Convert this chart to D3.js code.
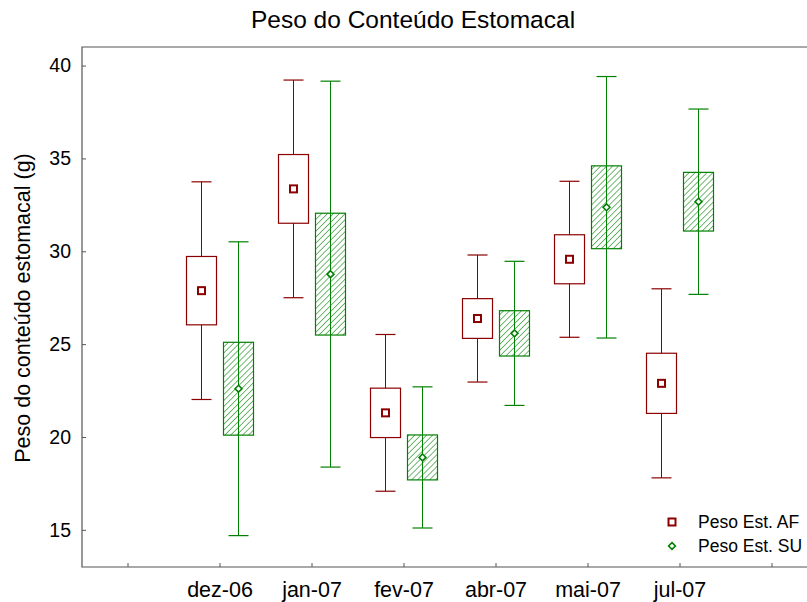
<!DOCTYPE html>
<html>
<head>
<meta charset="utf-8">
<script src="https://cdn.jsdelivr.net/npm/d3@7"></script>
<style>
  body { margin: 0; background: #fff; }
  text { font-family: "Liberation Sans", Arial, sans-serif; fill: #000; }
</style>
</head>
<body>
<script>
// Data
const categories = ["", "dez-06", "jan-07", "fev-07", "abr-07", "mai-07", "jul-07", " "];
const months = ["dez-06", "jan-07", "fev-07", "abr-07", "mai-07", "jul-07"];
const yTicks = [15, 20, 25, 30, 35, 40];

// Peso Est. AF: mean, box half-height, whisker half-height
const meanAF = [27.88, 33.36, 21.3, 26.38, 29.57, 22.89];
const boxAF = [1.84, 1.85, 1.33, 1.07, 1.32, 1.62];
const whiskAF = [5.86, 5.86, 4.22, 3.42, 4.2, 5.09];

// Peso Est. SU
const meanSU = [22.6, 28.77, 18.9, 25.58, 32.37, 32.67];
const boxSU = [2.5, 3.28, 1.21, 1.22, 2.23, 1.58];
const whiskSU = [7.91, 10.39, 3.8, 3.88, 7.04, 4.99];

const series = [
  {name: "Peso Est. AF", mean: meanAF, box: boxAF, whisk: whiskAF, color: "#8b0000", offset: -18.5, hatch: false},
  {name: "Peso Est. SU", mean: meanSU, box: boxSU, whisk: whiskSU, color: "#008000", offset: 18.5, hatch: true}
];

// Layout
const width = 807, height = 602;
const mLeft = 82, mTop = 47, mBottom = 567, mRight = 818;
const boxW = 30, capW = 20;

const svg = d3.select("body").append("svg")
  .attr("width", width)
  .attr("height", height);

const defs = svg.append("defs");
defs.append("pattern")
  .attr("id", "hatch")
  .attr("patternUnits", "userSpaceOnUse")
  .attr("width", 4.2).attr("height", 4.2)
  .attr("patternTransform", "rotate(45)")
  .append("line")
  .attr("x1", 0).attr("y1", 0).attr("x2", 0).attr("y2", 4.2)
  .attr("stroke", "#008000").attr("stroke-width", 1.1);

const x = d3.scaleBand().domain(categories).range([mLeft, mRight]).padding(0);
const y = d3.scaleLinear().domain([13, 41]).range([mBottom, mTop]);
const cx = m => x(m) + x.bandwidth() / 2;

// Title
svg.append("text")
  .attr("x", 413).attr("y", 28)
  .attr("text-anchor", "middle")
  .style("font-size", "24.5px")
  .text("Peso do Conteúdo Estomacal");

// Axes
const xAxis = svg.append("g")
  .attr("transform", `translate(0,${mBottom})`)
  .call(d3.axisBottom(x).tickSize(-4).tickPadding(15));
const yAxis = svg.append("g")
  .attr("transform", `translate(${mLeft},0)`)
  .call(d3.axisLeft(y).tickValues(yTicks).tickSize(-4).tickPadding(11));

[xAxis, yAxis].forEach(g => {
  g.select(".domain").remove();
  g.selectAll(".tick line").attr("stroke", "#555");
  g.selectAll(".tick text").attr("fill", "#000")
    .style("font-family", "'Liberation Sans', Arial, sans-serif");
});
xAxis.selectAll(".tick text").style("font-size", "21.5px");
yAxis.selectAll(".tick text").style("font-size", "19.5px");

// Frame
svg.append("path")
  .attr("d", `M${width},${mTop}H${mLeft}V${mBottom}H${width}`)
  .attr("fill", "none")
  .attr("stroke", "#555")
  .attr("stroke-width", 1.2);

// Y label
svg.append("text")
  .attr("transform", `translate(30,${(mTop + mBottom) / 2 + 1}) rotate(-90)`)
  .attr("text-anchor", "middle")
  .style("font-size", "21.5px")
  .text("Peso do conteúdo estomacal (g)");

// Boxes
series.forEach(s => {
  const g = svg.append("g");
  months.forEach((m, i) => {
    const xc = cx(m) + s.offset;
    const mu = s.mean[i];
    // whisker
    g.append("line")
      .attr("x1", xc).attr("x2", xc)
      .attr("y1", y(mu + s.whisk[i])).attr("y2", y(mu - s.whisk[i]))
      .attr("stroke", s.color);
    [mu + s.whisk[i], mu - s.whisk[i]].forEach(v => {
      g.append("line")
        .attr("x1", xc - capW / 2).attr("x2", xc + capW / 2)
        .attr("y1", y(v)).attr("y2", y(v))
        .attr("stroke", s.color).attr("stroke-width", 1.2);
    });
    // box
    g.append("rect")
      .attr("x", xc - boxW / 2)
      .attr("y", y(mu + s.box[i]))
      .attr("width", boxW)
      .attr("height", y(mu - s.box[i]) - y(mu + s.box[i]))
      .attr("fill", s.hatch ? "url(#hatch)" : "#fff")
      .attr("stroke", s.color).attr("stroke-width", 1.2);
    // mean marker
    if (s.hatch) {
      g.append("path")
        .attr("d", d3.symbol(d3.symbolDiamond2, 30)())
        .attr("transform", `translate(${xc},${y(mu)})`)
        .attr("fill", "#fff").attr("stroke", s.color).attr("stroke-width", 1.6);
    } else {
      g.append("rect")
        .attr("x", xc - 3.5).attr("y", y(mu) - 3.5)
        .attr("width", 7).attr("height", 7)
        .attr("fill", "#fff").attr("stroke", s.color).attr("stroke-width", 2);
    }
  });
});

// Legend
const legend = svg.append("g");
series.forEach((s, i) => {
  const ly = 522 + i * 24;
  if (s.hatch) {
    legend.append("path")
      .attr("d", d3.symbol(d3.symbolDiamond2, 30)())
      .attr("transform", `translate(672,${ly})`)
      .attr("fill", "#fff").attr("stroke", s.color).attr("stroke-width", 1.6);
  } else {
    legend.append("rect")
      .attr("x", 672 - 3.5).attr("y", ly - 3.5)
      .attr("width", 7).attr("height", 7)
      .attr("fill", "#fff").attr("stroke", s.color).attr("stroke-width", 2);
  }
  legend.append("text")
    .attr("x", 698).attr("y", ly + 6)
    .style("font-size", "17.5px")
    .text(s.name);
});
</script>
</body>
</html>
